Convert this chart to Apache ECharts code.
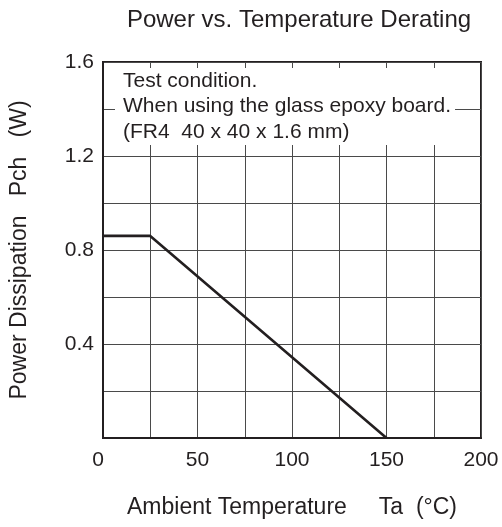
<!DOCTYPE html>
<html>
<head>
<meta charset="utf-8">
<script src="https://cdn.jsdelivr.net/npm/echarts@6/dist/echarts.min.js"></script>
<style>html,body{margin:0;padding:0;background:#fff;}#c{width:502px;height:527px;}</style>
</head>
<body>
<div id="c"></div>
<script>
var titleText = 'Power vs. Temperature Derating';
var xName = 'Ambient Temperature     Ta  (\u00b0C)';
var yName = 'Power Dissipation   Pch   (W)';
var noteLines = ['Test condition.', 'When using the glass epoxy board.', '(FR4  40 x 40 x 1.6 mm)'];
var temperature = [0, 25, 150];
var power = [0.86, 0.86, 0];
var xTickLabels = [0, 50, 100, 150, 200];
var yTickLabels = [0.4, 0.8, 1.2, 1.6];

var FONT = "'Liberation Sans', Arial, Helvetica, sans-serif";
var INK = '#231f20';
var chart = echarts.init(document.getElementById('c'));
var seriesData = temperature.map(function (t, i) { return [t, power[i]]; });

chart.setOption({
  animation: false,
  backgroundColor: '#fff',
  title: {
    text: titleText, left: 294, top: 3, textAlign: 'center',
    textStyle: { fontFamily: FONT, fontSize: 24, fontWeight: 'normal', color: INK }
  },
  grid: { left: 102, right: 21, top: 62, bottom: 89, show: true, borderColor: INK, borderWidth: 2, backgroundColor: 'transparent' },
  xAxis: {
    type: 'value', min: 0, max: 200, interval: 25,
    name: xName, nameLocation: 'middle', nameGap: 58,
    nameTextStyle: { fontFamily: FONT, fontSize: 23, color: INK },
    axisLine: { show: true, lineStyle: { color: INK, width: 2 } },
    axisTick: { show: false },
    splitLine: { show: true, lineStyle: { color: '#4a4a4a', width: 1 } },
    axisLabel: {
      margin: 12, fontFamily: FONT, fontSize: 21, color: INK,
      formatter: function (v) {
        if (xTickLabels.indexOf(v) < 0) return '';
        return v === 0 ? '{z|0}' : String(v);
      },
      rich: { z: { fontFamily: FONT, fontSize: 21, color: INK, padding: [0, 10, 0, 0] } }
    }
  },
  yAxis: {
    type: 'value', min: 0, max: 1.6, interval: 0.2,
    name: yName, nameLocation: 'middle', nameGap: 72, nameRotate: 90,
    nameTextStyle: { fontFamily: FONT, fontSize: 23, color: INK },
    axisLine: { show: true, lineStyle: { color: INK, width: 2 } },
    axisTick: { show: false },
    splitLine: { show: true, lineStyle: { color: '#4a4a4a', width: 1 } },
    axisLabel: {
      margin: 9, fontFamily: FONT, fontSize: 21, color: INK,
      formatter: function (v) {
        var r = Math.round(v * 10) / 10;
        for (var i = 0; i < yTickLabels.length; i++) {
          if (Math.abs(yTickLabels[i] - r) < 1e-6) return r.toFixed(1);
        }
        return '';
      }
    }
  },
  graphic: [{
    type: 'text', left: 115, top: 68, z: 100,
    style: {
      text: noteLines.join('\n'),
      font: "21px 'Liberation Sans', Arial, Helvetica, sans-serif",
      fill: INK, backgroundColor: '#fff', padding: [0, 4, 0, 8], lineHeight: 25.7
    }
  }],
  series: [{
    type: 'line', data: seriesData, symbol: 'none',
    lineStyle: { color: INK, width: 2.6 }, z: 5
  }]
});
</script>
</body>
</html>
